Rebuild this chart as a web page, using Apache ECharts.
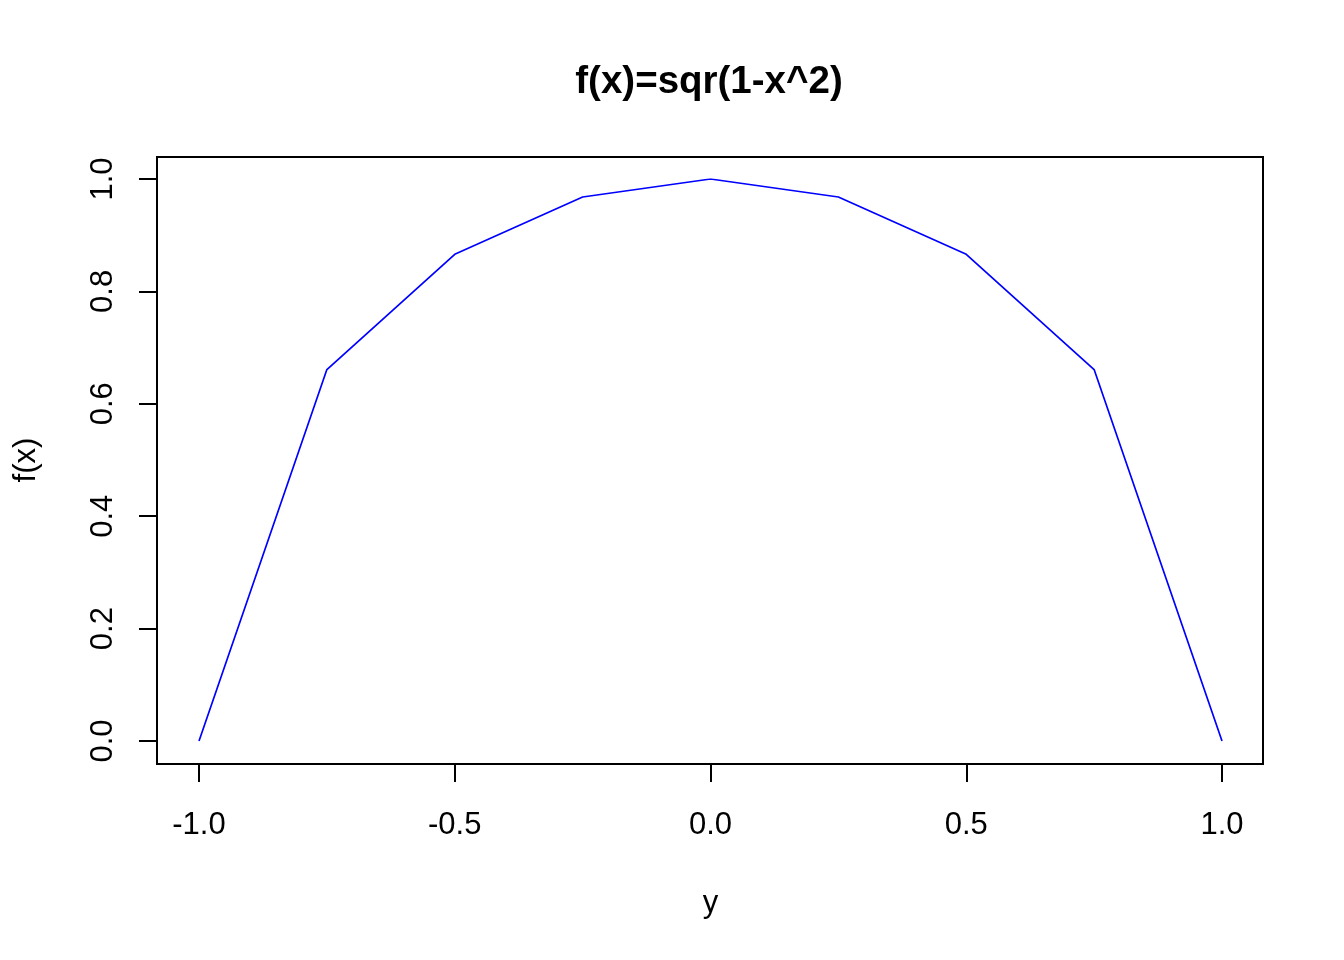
<!DOCTYPE html>
<html>
<head>
<meta charset="utf-8">
<script src="https://cdn.jsdelivr.net/npm/echarts@6/dist/echarts.min.js"></script>
<style>html,body{margin:0;padding:0;background:#fff}#c{width:1344px;height:960px}</style>
</head>
<body>
<div id="c"></div>
<script>
var xValues = [-1, -0.75, -0.5, -0.25, 0, 0.25, 0.5, 0.75, 1];
var yValues = [0, 0.661, 0.866, 0.968, 1.0, 0.968, 0.866, 0.661, 0];
var titleText = 'f(x)=sqr(1-x^2)';
var xName = 'y';
var yName = 'f(x)';

var pts = xValues.map(function (x, i) { return [x, yValues[i]]; });
var FONT = '"Liberation Sans", Arial, sans-serif';
var chart = echarts.init(document.getElementById('c'), null, {renderer: 'canvas'});
chart.setOption({
  animation: false,
  backgroundColor: '#fff',
  title: {
    text: titleText, left: 704, top: 58, textAlign: 'center',
    textStyle: {fontFamily: FONT, fontWeight: 'bold', fontSize: 38.5, color: '#000'}
  },
  grid: [
    {left: 157, top: 157, width: 1106, height: 607, show: true, borderColor: '#000', borderWidth: 2, backgroundColor: 'transparent'},
    {left: 199, top: 179, width: 1023, height: 562}
  ],
  xAxis: [
    {gridIndex: 0, type: 'value', min: -1.08, max: 1.08, show: false},
    {gridIndex: 1, type: 'value', min: -1, max: 1, interval: 0.5, position: 'bottom', offset: 23,
     axisLine: {show: false, onZero: false}, splitLine: {show: false},
     axisTick: {show: true, length: 18, lineStyle: {color: '#000', width: 2}},
     axisLabel: {margin: 46, fontSize: 31, color: '#000', fontFamily: FONT, formatter: function (v) { return v.toFixed(1); }},
     name: xName, nameLocation: 'middle', nameGap: 124,
     nameTextStyle: {fontSize: 31, color: '#000', fontFamily: FONT}}
  ],
  yAxis: [
    {gridIndex: 0, type: 'value', min: -0.04, max: 1.04, show: false},
    {gridIndex: 1, type: 'value', min: 0, max: 1, interval: 0.2, position: 'left', offset: 42,
     axisLine: {show: false, onZero: false}, splitLine: {show: false},
     axisTick: {show: true, length: 18, lineStyle: {color: '#000', width: 2}},
     axisLabel: {margin: 38, rotate: 90, fontSize: 31, color: '#000', fontFamily: FONT, formatter: function (v) { return v.toFixed(1); }},
     name: yName, nameLocation: 'middle', nameGap: 115,
     nameTextStyle: {fontSize: 31, color: '#000', fontFamily: FONT}}
  ],
  series: [{
    type: 'line', xAxisIndex: 1, yAxisIndex: 1, data: pts,
    showSymbol: false, symbol: 'none',
    lineStyle: {color: '#0000ff', width: 1.7}
  }]
});
</script>
</body>
</html>
